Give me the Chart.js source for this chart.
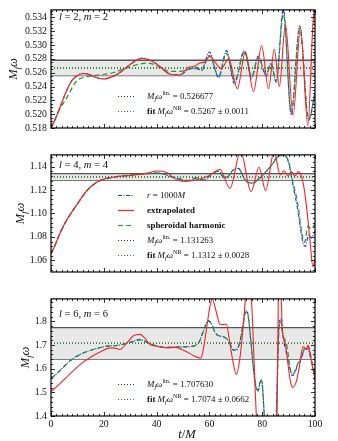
<!DOCTYPE html>
<html>
<head>
<meta charset="utf-8">
<script src="https://cdn.jsdelivr.net/npm/chart.js@4/dist/chart.umd.min.js"></script>
<style>
  html, body { margin: 0; padding: 0; background: #fff; }
  #wrap { position: relative; width: 338px; height: 441px; }
  .panel { position: absolute; left: 0; width: 338px; }
</style>
</head>
<body>
<div id="wrap">
  <div class="panel" style="top:0px;height:140px"><canvas id="c1"></canvas></div>
  <div class="panel" style="top:145px;height:140px"><canvas id="c2"></canvas></div>
  <div class="panel" style="top:289px;height:152px"><canvas id="c3"></canvas></div>
</div>
<script>
// ---- data, [t/M, M_f omega] ----
const xTicks = [0, 20, 40, 60, 80, 100];

// l=2, m=2
const p1Ticks = [0.518, 0.520, 0.522, 0.524, 0.526, 0.528, 0.530, 0.532, 0.534];
const p1Lin = 0.526677, p1Fit = 0.5267, p1Err = 0.0011;
const p1Red = [[0,0.5180],[1.5,0.5192],[3.4,0.5210],[5.9,0.5234],[7.8,0.5248],[10,0.5256],[12.2,0.5259],[14,0.5258],[16,0.5255],[18,0.5252],[20.2,0.5251],[23,0.5254],[26,0.5260],[30,0.5272],[34.4,0.5281],[37.5,0.5278],[41,0.5270],[44,0.5260],[46.5,0.5257],[49,0.5257],[50.5,0.5262],[52,0.5268],[54,0.5269],[56.4,0.5274],[58.3,0.5276],[60.2,0.5284],[62,0.5276],[64.5,0.5266],[67.3,0.5280],[70.6,0.5237],[73.6,0.5290],[76.7,0.5233],[79.8,0.5299],[82.4,0.5237],[84.6,0.5294],[86.5,0.5240],[88.8,0.5330],[91.7,0.5198],[94.5,0.5325],[97.3,0.5183],[99.2,0.5330],[100,0.5360]];
const p1Blue = [[0,0.5180],[1.5,0.5192],[3.4,0.5210],[5.9,0.5234],[7.8,0.5248],[10,0.5256],[12.2,0.5259],[14,0.5258],[16,0.5255],[18,0.5252],[20.2,0.5251],[23,0.5254],[26,0.5260],[30,0.5272],[34.4,0.5281],[37.5,0.5278],[41,0.5270],[44,0.5260],[46.5,0.5257],[49,0.5257],[51,0.5262],[53,0.5266],[55,0.5266],[57,0.5264],[60,0.5290],[63.5,0.5253],[66.5,0.5292],[69.5,0.5244],[73.2,0.5292],[76,0.5252],[78.5,0.5284],[81.5,0.5255],[83.3,0.5274],[85.3,0.5246],[88,0.5352],[91,0.5199],[94.2,0.5328],[97.6,0.5191],[100,0.5232]];
const p1Green = [[0,0.5181],[1.5,0.5192],[3,0.5205],[6,0.5224],[9.7,0.5248],[13.5,0.5254],[18.6,0.5257],[23.5,0.5260],[28.7,0.5267],[33,0.5272],[36.2,0.5274],[39,0.5272],[42,0.5266],[45,0.5262],[49,0.5262],[52,0.5265],[55,0.5268],[57,0.5263],[60,0.5285],[63.5,0.5255],[66.5,0.5288],[69.5,0.5248],[73.3,0.5290],[76,0.5255],[78.5,0.5282],[81.5,0.5258],[83.4,0.5272],[85.3,0.5248],[88,0.5345],[91,0.5203],[94.2,0.5324],[97.6,0.5194],[100,0.5228]];

// l=4, m=4
const p2Ticks = [1.06, 1.08, 1.10, 1.12, 1.14];
const p2Lin = 1.131263, p2Fit = 1.1312, p2Err = 0.0028;
const p2Red = [[0,1.0655],[1.5,1.0725],[3.4,1.0831],[5.9,1.0942],[9.7,1.1072],[13.5,1.1192],[17.3,1.1267],[21.1,1.1300],[25,1.1315],[28.7,1.1322],[33,1.1333],[36.2,1.1342],[40,1.1362],[43.8,1.1350],[47,1.1295],[49.5,1.1275],[52.6,1.1278],[56.4,1.1294],[60.2,1.1327],[64,1.1375],[67.8,1.1215],[71.8,1.1530],[75.8,1.1185],[78.8,1.1395],[81.3,1.1195],[84.5,1.1530],[86.8,1.1330],[88.3,1.1365],[89.7,1.1320],[91.1,1.1355],[92.4,1.1320],[93.6,1.1355],[95,1.1310],[96.3,1.1150],[97.3,1.0950],[98.3,1.0720],[99.2,1.0545],[100,1.0610]];
const p2Blue = [[0,1.0655],[1.5,1.0725],[3.4,1.0831],[5.9,1.0942],[9.7,1.1072],[13.5,1.1192],[17.3,1.1267],[21.1,1.1300],[25,1.1315],[28.7,1.1322],[33,1.1333],[37,1.1342],[41,1.1345],[45,1.1318],[49,1.1290],[51.5,1.1278],[55,1.1300],[58,1.1283],[61,1.1342],[63.5,1.1362],[65.5,1.1305],[67,1.1312],[69,1.1372],[71,1.1385],[73.5,1.1285],[76,1.1255],[79.4,1.1308],[81.9,1.1368],[83.8,1.1420],[85.7,1.1482],[87.6,1.1500],[89.8,1.1450],[91.5,1.1260],[93.4,1.1040],[95.5,1.0745],[96.4,1.0720],[97.6,1.0820],[98.6,1.0790],[100,1.0850]];
const p2Green = [[0,1.0660],[1.5,1.0730],[3.4,1.0830],[5.9,1.0940],[9.7,1.1070],[13.5,1.1190],[17.3,1.1265],[21.1,1.1295],[25,1.1315],[28.7,1.1325],[33,1.1335],[37,1.1340],[41,1.1345],[45,1.1320],[49,1.1295],[52,1.1282],[55,1.1305],[58,1.1285],[61,1.1340],[63.5,1.1360],[65.5,1.1310],[67,1.1315],[69,1.1370],[71,1.1380],[73.5,1.1290],[76,1.1260],[79.4,1.1310],[81.9,1.1370],[83.8,1.1420],[85.7,1.1480],[87.6,1.1495],[89.8,1.1460],[91.5,1.1280],[93.4,1.1090],[95.2,1.0810],[96.1,1.0755],[97.3,1.0890],[98.5,1.0870],[100,1.0910]];

// l=6, m=6
const p3Ticks = [1.4, 1.5, 1.6, 1.7, 1.8];
const p3Lin = 1.707630, p3Fit = 1.7074, p3Err = 0.0662;
const p3Red = [[0,1.503],[3.4,1.537],[7.2,1.578],[11,1.617],[14.8,1.647],[18.6,1.670],[22.4,1.688],[24.2,1.687],[26.1,1.681],[28.7,1.708],[31.2,1.739],[33.7,1.745],[35.5,1.730],[37.5,1.702],[40,1.695],[43.8,1.688],[47,1.690],[50.8,1.675],[54.6,1.652],[56.8,1.644],[57.8,1.688],[58.9,1.767],[60.2,1.863],[61,1.895],[62.7,1.836],[63.9,1.789],[65.4,1.786],[66.4,1.789],[67.7,1.712],[68.9,1.632],[70.2,1.575],[71.5,1.640],[72.7,1.767],[73.7,1.900],[74.8,1.990],[75.9,1.900],[77.8,1.400],[80,1.150],[83,1.100],[85.5,1.300],[86.1,1.900],[86.7,2.000],[87.2,1.900],[87.6,1.774],[88.9,1.699],[90.1,1.589],[90.8,1.541],[91.4,1.521],[92.9,1.545],[94.2,1.617],[95.4,1.692],[96,1.690],[96.7,1.680],[97.3,1.700],[98,1.672],[99,1.610],[100,1.562]];
const p3Blue = [[0,1.563],[0.9,1.567],[3.4,1.592],[7.2,1.633],[11,1.660],[16,1.681],[21.1,1.695],[26.1,1.700],[31.2,1.716],[33.5,1.724],[35,1.719],[38.8,1.700],[43.8,1.690],[48.9,1.692],[52.6,1.694],[56,1.712],[57.6,1.756],[59.5,1.803],[60.8,1.792],[62,1.757],[63.3,1.740],[65.5,1.734],[67.7,1.708],[68.9,1.679],[70.1,1.678],[71.5,1.712],[72.7,1.785],[73.8,1.845],[74.5,1.836],[75.6,1.728],[76.8,1.585],[77.8,1.515],[78.4,1.505],[79.5,1.550],[80,1.535],[80.8,1.400],[82,1.200],[84,1.200],[85.3,1.400],[86.2,1.760],[86.9,1.815],[87.8,1.740],[89.6,1.644],[90.8,1.589],[91.4,1.570],[92.3,1.580],[93.4,1.617],[94.7,1.640],[95.9,1.678],[97.3,1.685],[98,1.660],[99.2,1.603],[100,1.548]];
const p3Green = [[0,1.563],[0.9,1.567],[3.4,1.592],[7.2,1.633],[11,1.660],[16,1.681],[21.1,1.695],[26.1,1.700],[31.2,1.715],[33.5,1.722],[35,1.718],[38.8,1.700],[43.8,1.690],[48.9,1.692],[52.6,1.693],[56,1.710],[57.6,1.753],[59.5,1.800],[60.8,1.790],[62,1.755],[63.3,1.740],[65.5,1.735],[67.7,1.710],[68.9,1.681],[70.1,1.680],[71.5,1.710],[72.7,1.780],[73.8,1.840],[74.5,1.832],[75.6,1.730],[76.8,1.590],[77.8,1.521],[78.4,1.507],[79.5,1.555],[80,1.540],[80.8,1.400],[82,1.200],[84,1.200],[85.4,1.400],[86.3,1.750],[87,1.800],[87.8,1.745],[89.3,1.700],[90.6,1.600],[91.2,1.575],[92.2,1.585],[93.6,1.625],[94.9,1.650],[96.2,1.690],[97.5,1.695],[98.8,1.630],[99.4,1.610],[100,1.580]];

// ---- styles ----
const SERIF = '"Liberation Serif", "DejaVu Serif", serif';
const FS_TICK = 9.8, FS_LEG = 8.9, FS_LABEL = 10.6, FS_TITLE = 12.5;
const RED = '#ff2020', GREEN = '#1e9a1e', BLUE = '#1030ff';
const DOT_DARK = '#333333';

function font(style, size) { return (style ? style + ' ' : '') + size + 'px ' + SERIF; }

// a run of [text, style, kind] pieces; kind: 'sub' | 'sup' | undefined
function richWidth(ctx, parts, fs) {
  let w = 0;
  parts.forEach(p => { ctx.font = font(p[1], p[2] ? fs * 0.7 : fs); w += ctx.measureText(p[0]).width; });
  return w;
}
function drawRich(ctx, x, y, parts, fs) {
  ctx.textBaseline = 'middle';
  ctx.textAlign = 'left';
  parts.forEach(p => {
    const small = !!p[2];
    ctx.font = font(p[1], small ? fs * 0.7 : fs);
    const dy = p[2] === 'sub' ? fs * 0.27 : (p[2] === 'sup' ? -fs * 0.38 : 0);
    ctx.fillText(p[0], x, y + dy);
    x += ctx.measureText(p[0]).width;
  });
}

const mfw = [['M', 'italic'], ['f', 'italic', 'sub'], ['ω', 'italic']];
function linEntry(v) {
  return { kind: 'lin', parts: mfw.concat([['lin.', '', 'sup'], [' = ' + v.toFixed(6), '']]) };
}
function fitEntry(v, e) {
  return { kind: 'fit', parts: [['fit ', 'bold']].concat(mfw, [['NR', '', 'sup'], [' = ' + v.toFixed(4) + ' ± ' + e.toFixed(4), '']]) };
}
const rawEntry = { kind: 'blue', parts: [['r', 'italic'], [' = 1000', ''], ['M', 'italic']] };
const extEntry = { kind: 'red', parts: [['extrapolated', 'bold']] };
const sphEntry = { kind: 'green', parts: [['spheroidal harmonic', 'bold']] };

function sampleStyle(ctx, kind) {
  ctx.lineWidth = 1.2;
  if (kind === 'blue') { ctx.strokeStyle = BLUE; ctx.setLineDash([4, 1.5, 1, 1.5]); }
  else if (kind === 'red') { ctx.strokeStyle = RED; ctx.setLineDash([]); }
  else if (kind === 'green') { ctx.strokeStyle = GREEN; ctx.setLineDash([5, 3]); }
  else if (kind === 'lin') { ctx.strokeStyle = DOT_DARK; ctx.setLineDash([1, 2]); }
  else { ctx.strokeStyle = GREEN; ctx.setLineDash([1, 2]); }
}

// ticks, frame, legend and labels drawn on top of the plot
const decorPlugin = {
  id: 'decor',
  afterDraw(chart, args, o) {
    const ctx = chart.ctx, a = chart.chartArea;
    const xs = chart.scales.x, ys = chart.scales.y;
    ctx.save();
    ctx.strokeStyle = '#000';
    ctx.lineWidth = 0.8;
    ctx.setLineDash([]);
    ctx.beginPath();
    // x ticks (top and bottom), minor every 2
    for (let k = 0; k <= 50; k++) {
      const v = k * 2;
      const px = Math.round(xs.getPixelForValue(v)) + 0.5;
      const len = v % 20 === 0 ? 4 : 2.2;
      ctx.moveTo(px, a.bottom); ctx.lineTo(px, a.bottom - len);
      ctx.moveTo(px, a.top); ctx.lineTo(px, a.top + len);
    }
    // y ticks (left and right)
    const k0 = Math.ceil(ys.min / o.yMinor - 1e-6), k1 = Math.floor(ys.max / o.yMinor + 1e-6);
    for (let k = k0; k <= k1; k++) {
      const v = k * o.yMinor;
      const major = o.yTicks.some(t => Math.abs(t - v) < o.yMinor / 10);
      const py = Math.round(ys.getPixelForValue(v)) + 0.5;
      const len = major ? 4 : 2.2;
      ctx.moveTo(a.left, py); ctx.lineTo(a.left + len, py);
      ctx.moveTo(a.right, py); ctx.lineTo(a.right - len, py);
    }
    ctx.stroke();

    // frame
    ctx.lineWidth = 1.2;
    ctx.strokeRect(a.left, a.top, a.right - a.left, a.bottom - a.top);

    ctx.fillStyle = '#111';
    // panel label
    drawRich(ctx, 59, o.labelY, [['l', 'italic'], [' = ' + o.l + ', ', ''], ['m', 'italic'], [' = ' + o.m, '']], FS_LABEL);

    // legend
    o.legend.forEach((e, i) => {
      const y = o.legendY + i * 15;
      sampleStyle(ctx, e.kind);
      ctx.beginPath();
      ctx.moveTo(118, y); ctx.lineTo(134, y);
      ctx.stroke();
      ctx.setLineDash([]);
      drawRich(ctx, 147, y, e.parts, FS_LEG);
    });

    // y title, rotated
    ctx.save();
    ctx.translate(o.titleX, (a.top + a.bottom) / 2);
    ctx.rotate(-Math.PI / 2);
    const w = richWidth(ctx, mfw, FS_TITLE);
    drawRich(ctx, -w / 2, 0, mfw, FS_TITLE);
    ctx.restore();

    // x title
    if (o.xTitle) {
      const parts = [['t', 'italic'], ['/', ''], ['M', 'italic']];
      const w2 = richWidth(ctx, parts, FS_TITLE);
      drawRich(ctx, (a.left + a.right) / 2 - w2 / 2 + 4, o.xTitleY, parts, FS_TITLE);
    }
    ctx.restore();
  }
};

function pts(arr) { return arr.map(p => ({ x: p[0], y: p[1] })); }
function hline(v) { return [{ x: 0, y: v }, { x: 100, y: v }]; }

function makePanel(id, cfg) {
  const flat = { pointRadius: 0, borderWidth: 1.2, tension: 0 };
  new Chart(document.getElementById(id), {
    type: 'line',
    data: {
      datasets: [
        Object.assign({ data: hline(cfg.fit - cfg.err), borderColor: '#555', order: 7 }, flat, { borderWidth: 1.4 }),
        Object.assign({ data: hline(cfg.fit + cfg.err), borderColor: '#555', backgroundColor: '#e8e8e8', fill: '-1', order: 6 }, flat, { borderWidth: 1.4 }),
        Object.assign({ data: hline(cfg.lin), borderColor: DOT_DARK, borderDash: [1, 2], order: 5 }, flat),
        Object.assign({ data: hline(cfg.fit), borderColor: GREEN, borderDash: [1, 2], order: 4 }, flat),
        { data: pts(cfg.blue), borderColor: BLUE, borderDash: [4, 1.5, 1, 1.5], borderWidth: 1.1, pointRadius: 0, cubicInterpolationMode: 'monotone', order: 3 },
        { data: pts(cfg.green), borderColor: GREEN, borderDash: [5, 3], borderWidth: 1.2, pointRadius: 0, cubicInterpolationMode: 'monotone', order: 2 },
        { data: pts(cfg.red), borderColor: RED, borderWidth: 1.1, pointRadius: 0, cubicInterpolationMode: 'monotone', order: 1 }
      ]
    },
    options: {
      responsive: true,
      maintainAspectRatio: false,
      animation: false,
      events: [],
      layout: { padding: { top: 7, right: 23, left: 0, bottom: 0 } },
      plugins: { legend: { display: false }, tooltip: { enabled: false }, decor: cfg.decor },
      scales: {
        x: {
          type: 'linear', min: 0, max: 100,
          grid: { display: false, drawTicks: false }, border: { display: false },
          afterBuildTicks: s => { s.ticks = xTicks.map(v => ({ value: v })); },
          afterFit: s => { s.height = cfg.xHeight; },
          ticks: { display: cfg.showX, color: '#111', padding: 3, maxRotation: 0, font: { family: SERIF, size: FS_TICK } }
        },
        y: {
          min: cfg.yMin, max: cfg.yMax,
          grid: { display: false, drawTicks: false }, border: { display: false },
          afterBuildTicks: s => { s.ticks = cfg.yTicks.map(v => ({ value: v })); },
          afterFit: s => { s.width = 51; },
          ticks: { color: '#111', padding: 4, font: { family: SERIF, size: FS_TICK }, callback: v => Number(v).toFixed(cfg.digits) }
        }
      }
    },
    plugins: [decorPlugin]
  });
}

makePanel('c1', {
  red: p1Red, blue: p1Blue, green: p1Green, lin: p1Lin, fit: p1Fit, err: p1Err,
  yMin: 0.518, yMax: 0.5351, yTicks: p1Ticks, digits: 3, xHeight: 12, showX: false,
  decor: { yTicks: p1Ticks, yMinor: 0.0005, l: 2, m: 2, labelY: 17, legendY: 96.5,
           legend: [linEntry(p1Lin), fitEntry(p1Fit, p1Err)], titleX: 14 }
});
makePanel('c2', {
  red: p2Red, blue: p2Blue, green: p2Green, lin: p2Lin, fit: p2Fit, err: p2Err,
  yMin: 1.05, yMax: 1.15, yTicks: p2Ticks, digits: 2, xHeight: 13, showX: false,
  decor: { yTicks: p2Ticks, yMinor: 0.004, l: 4, m: 4, labelY: 20.5, legendY: 50.5,
           legend: [rawEntry, extEntry, sphEntry, linEntry(p2Lin), fitEntry(p2Fit, p2Err)], titleX: 21 }
});
makePanel('c3', {
  red: p3Red, blue: p3Blue, green: p3Green, lin: p3Lin, fit: p3Fit, err: p3Err,
  yMin: 1.4, yMax: 1.895, yTicks: p3Ticks, digits: 1, xHeight: 25, showX: true,
  decor: { yTicks: p3Ticks, yMinor: 0.02, l: 6, m: 6, labelY: 25, legendY: 95.5,
           legend: [linEntry(p3Lin), fitEntry(p3Fit, p3Err)], titleX: 26, xTitle: true, xTitleY: 146 }
});
</script>
</body>
</html>
